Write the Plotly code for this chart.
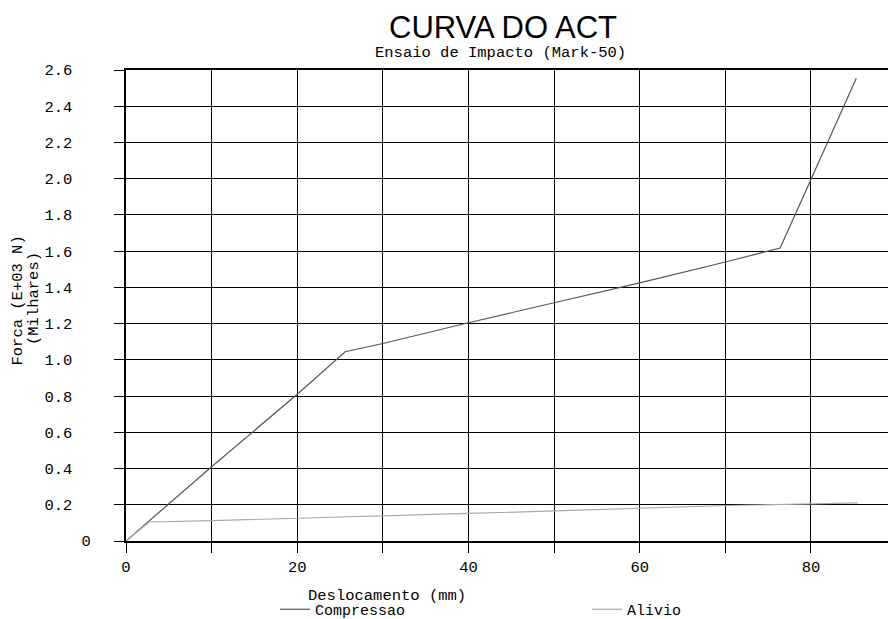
import plotly.graph_objects as go

# Data
comp_x = [0, 10, 20, 25.6, 30, 40, 50, 60, 70, 76.4, 80, 85.3]
comp_y = [0, 0.41, 0.81, 1.045, 1.09, 1.205, 1.315, 1.425, 1.54, 1.617, 1.996, 2.555]

aliv_x = [0, 2.7, 10, 20, 30, 40, 50, 60, 70, 80, 85.5]
aliv_y = [0, 0.105, 0.112, 0.124, 0.138, 0.152, 0.166, 0.18, 0.196, 0.205, 0.211]

x_ticks = [0, 10, 20, 30, 40, 50, 60, 70, 80]
x_ticktext = ["0", "", "20", "", "40", "", "60", "", "80"]
y_ticks = [0, 0.2, 0.4, 0.6, 0.8, 1.0, 1.2, 1.4, 1.6, 1.8, 2.0, 2.2, 2.4, 2.6]
y_ticktext = ["0"] + [f"{v:.1f}\u00a0\u00a0" for v in y_ticks[1:]]

MONO = "Liberation Mono"
W, H = 888, 619
L, R, T, B = 126, 0, 70, 78
ph = H - T - B
pw = W - L - R

def px_x(p):
    return (p - L) / pw

def px_y(p):
    return (H - B - p) / ph

fig = go.Figure()
fig.add_trace(go.Scatter(x=comp_x, y=comp_y, mode="lines", name="Compressao",
                         line=dict(color="#555555", width=1.2)))
fig.add_trace(go.Scatter(x=aliv_x, y=aliv_y, mode="lines", name="Alivio",
                         line=dict(color="#aaaaaa", width=1.2)))

fig.update_layout(
    width=W, height=H,
    margin=dict(l=L, r=R, t=T, b=B, autoexpand=False),
    paper_bgcolor="white", plot_bgcolor="white",
    font=dict(family=MONO, size=15, color="#000000"),
    showlegend=True,
    legend=dict(orientation="h", xref="container", yref="container",
                x=275 / W, y=1 - 593 / H, xanchor="left", yanchor="top",
                entrywidth=267, entrywidthmode="pixels",
                font=dict(family=MONO, size=15, color="#000000"),
                bgcolor="rgba(0,0,0,0)"),
    xaxis=dict(range=[0, 89], tickvals=x_ticks, ticktext=x_ticktext,
               automargin=False,
               showgrid=True, gridcolor="#000000", gridwidth=1,
               zeroline=False, showline=True, mirror=True,
               linecolor="#000000", linewidth=2,
               ticks="outside", ticklen=10, tickcolor="#000000", tickwidth=1,
               tickfont=dict(family=MONO, size=15.5, color="#000000")),
    yaxis=dict(range=[0, 2.6], tickvals=y_ticks, ticktext=y_ticktext,
               automargin=False,
               showgrid=True, gridcolor="#000000", gridwidth=1,
               zeroline=False, showline=True, mirror=False,
               linecolor="#000000", linewidth=2,
               ticks="outside", ticklen=10, tickcolor="#000000", tickwidth=1,
               ticklabelstandoff=20,
               tickfont=dict(family=MONO, size=15.5, color="#000000")),
)

annotations = [
    dict(text="CURVA DO ACT", x=px_x(503), y=px_y(27), xref="paper", yref="paper",
         xanchor="center", yanchor="middle", showarrow=False,
         font=dict(family="Liberation Sans", size=31, color="#000000")),
    dict(text="Ensaio de Impacto (Mark-50)", x=px_x(500), y=px_y(53), xref="paper", yref="paper",
         xanchor="center", yanchor="middle", showarrow=False,
         font=dict(family=MONO, size=15.5, color="#000000")),
    dict(text="Deslocamento (mm)", x=px_x(387), y=px_y(596), xref="paper", yref="paper",
         xanchor="center", yanchor="middle", showarrow=False,
         font=dict(family=MONO, size=15.5, color="#000000")),
    dict(text="Forca (E+03 N)", x=px_x(17.5), y=px_y(301), xref="paper", yref="paper",
         xanchor="center", yanchor="middle", showarrow=False, textangle=-90,
         font=dict(family=MONO, size=15.5, color="#000000")),
    dict(text="(Milhares)", x=px_x(34), y=px_y(299), xref="paper", yref="paper",
         xanchor="center", yanchor="middle", showarrow=False, textangle=-90,
         font=dict(family=MONO, size=15.5, color="#000000")),
]
fig.update_layout(annotations=annotations)

fig.write_html("out.html",
               config={"displayModeBar": False},
               post_script="document.body.style.margin='0px';document.body.style.overflow='hidden';")
